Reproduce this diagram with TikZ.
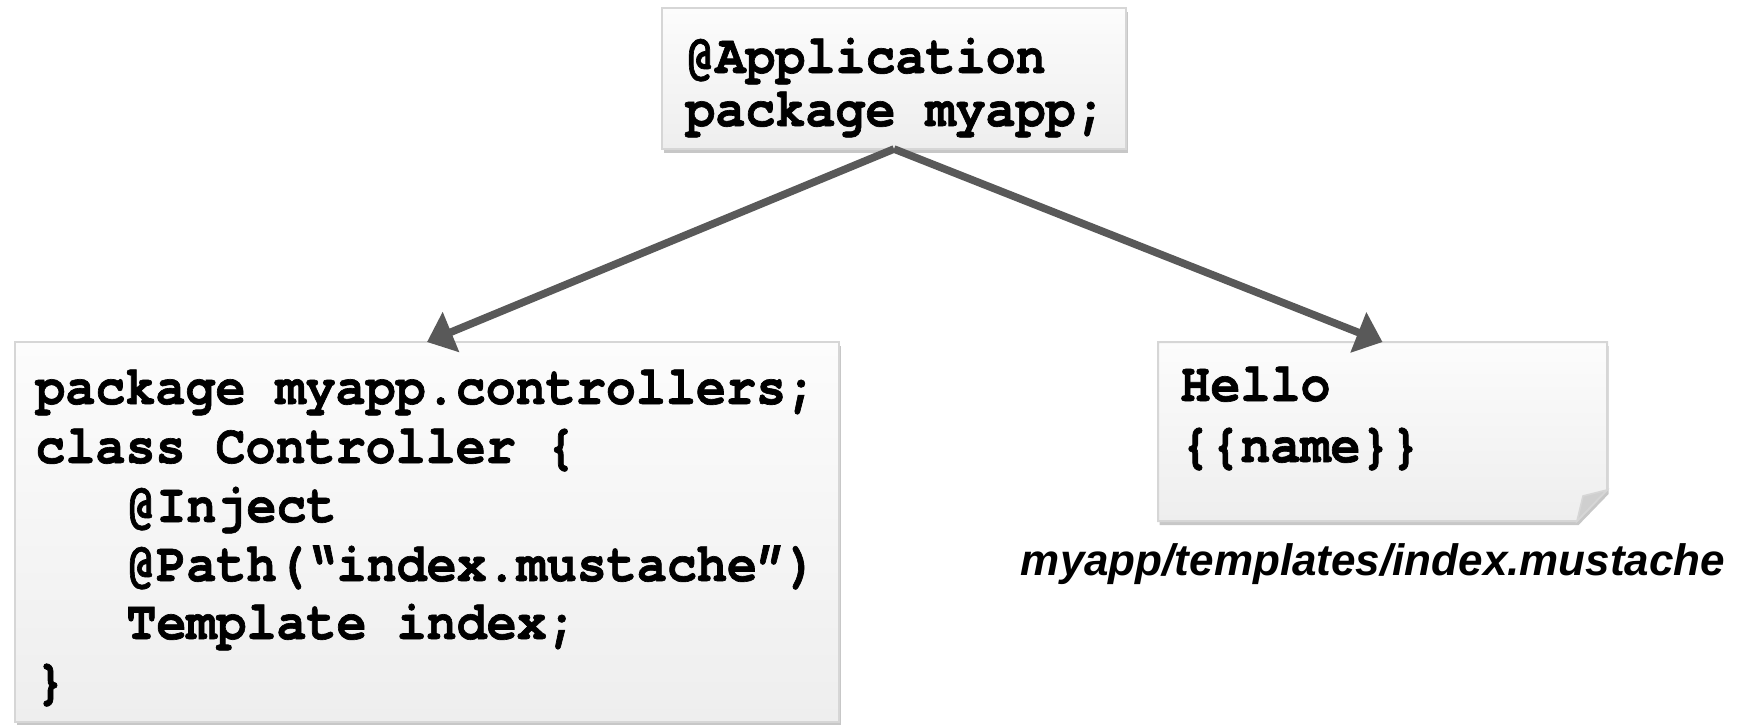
\documentclass[tikz,border=0pt]{standalone}
\usepackage{fontspec}
\setmainfont{Liberation Sans}
\newfontfamily\codefont{TeX Gyre Cursor}[FakeStretch=0.91, BoldFeatures={FakeBold=1.2}]
\usetikzlibrary{arrows.meta,shadows}
\definecolor{boxborder}{HTML}{D6D6D6}
\definecolor{boxtop}{HTML}{FCFCFC}
\definecolor{boxbot}{HTML}{EEEEEE}
\definecolor{arrowgray}{HTML}{595959}
\definecolor{foldgray}{HTML}{CFCFCF}
\tikzset{
  codebox/.style={draw=boxborder, line width=1pt, top color=boxtop, bottom color=boxbot,
    inner sep=0pt, outer sep=0pt, anchor=north west,
    drop shadow={shadow xshift=0.8pt, shadow yshift=-2pt, opacity=0.22, fill=black}},
  codeline/.style={anchor=base west, inner sep=0pt, font=\codefont\bfseries\fontsize{27.5}{31}\selectfont},
  caption/.style={anchor=base, inner sep=0pt, font=\bfseries\itshape\fontsize{22}{26}\selectfont},
  arr/.style={draw=arrowgray, line width=3.8pt, -{Triangle[length=13pt,width=21pt]}},
}
\begin{document}
\begin{tikzpicture}[x=0.5pt,y=-0.5pt]
\useasboundingbox (0,0) rectangle (1742,724);
% boxes
\node[codebox, minimum width=232pt, minimum height=70.5pt] (app) at (662,8) {};
\node[codebox, minimum width=412pt, minimum height=190pt] (ctrl) at (15,342) {};
\node[inner sep=0pt, outer sep=0pt, anchor=north west, minimum width=224.5pt, minimum height=89.5pt] (tmpl) at (1158,342) {};
\path[draw=boxborder, line width=1pt, top color=boxtop, bottom color=boxbot,
    drop shadow={shadow xshift=0.8pt, shadow yshift=-2pt, opacity=0.22, fill=black}]
  (tmpl.north west) -- (tmpl.north east) -- ([yshift=15.5pt]tmpl.south east)
  -- ([xshift=-15pt]tmpl.south east) -- (tmpl.south west) -- cycle;
\path[draw=boxborder, line width=0.8pt, fill=foldgray]
  ([yshift=15.5pt]tmpl.south east) -- ([xshift=-15pt]tmpl.south east)
  -- ([xshift=-12pt,yshift=12.5pt]tmpl.south east) -- cycle;
% texts
\node[codeline] (a1) at (685,73) {@Application};
\node[codeline] (a2) at (685,126) {package myapp;};
\node[codeline] (c1) at (35,404) {package myapp.controllers;};
\node[codeline] (c2) at (35,463) {class Controller \{};
\node[codeline] (c3) at (126,522) {@Inject};
\node[codeline] (c4) at (126,581) {@Path(“index.mustache”)};
\node[codeline] (c5) at (126,639) {Template index;};
\node[codeline] (c6) at (35,698) {\}};
\node[codeline] (t1) at (1180,401) {Hello};
\node[codeline] (t2) at (1180,462) {\{\{name\}\}};
\node[caption] (cap) at (1373,575) {myapp/templates/index.mustache};
% connectors
\draw[arr] (app.south) -- (ctrl.north);
\draw[arr] (app.south) -- (tmpl.north);
\end{tikzpicture}
\end{document}
